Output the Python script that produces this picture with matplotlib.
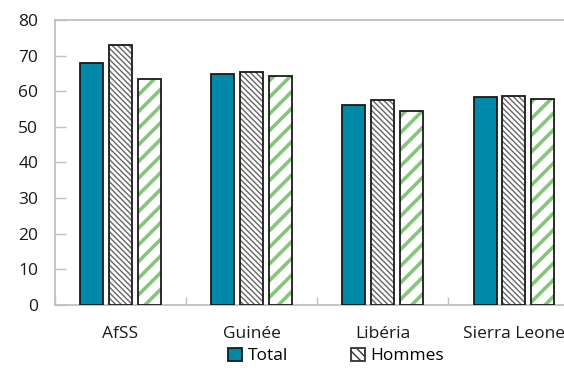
import numpy as np
import matplotlib
matplotlib.use('Agg')
import matplotlib.pyplot as plt
from matplotlib.patches import Patch

plt.rcParams['font.family'] = ['Open Sans', 'DejaVu Sans']

# Taux par pays et par sexe
categories = ['AfSS', 'Guinée', 'Libéria', 'Sierra Leone']
total = [68.0, 64.7, 56.2, 58.3]
hommes = [73.0, 65.3, 57.5, 58.7]
femmes = [63.3, 64.3, 54.5, 57.9]

teal = '#0088a8'
green = '#86c67a'

fig = plt.figure(figsize=(5.64, 3.68), dpi=100)
ax = fig.add_axes([0.0975, 0.171, 0.93, 0.775])

x = np.arange(len(categories))
w = 0.175
step = 0.22

ax.bar(x - step, total, w, color=teal, edgecolor='#1a1a1a', linewidth=1.3, zorder=3)

plt.rcParams['hatch.linewidth'] = 1.0
ax.bar(x, hommes, w, color='white', edgecolor='#666666', hatch='\\\\\\\\\\\\', linewidth=0, zorder=3)
ax.bar(x, hommes, w, fill=False, edgecolor='#1a1a1a', linewidth=1.3, zorder=4)

plt.rcParams['hatch.linewidth'] = 2.6
ax.bar(x + step, femmes, w, color='white', edgecolor=green, hatch='//', linewidth=0, zorder=3)
ax.bar(x + step, femmes, w, fill=False, edgecolor='#1a1a1a', linewidth=1.3, zorder=4)

ax.set_ylim(0, 80)
ax.set_xlim(-0.5, len(categories) - 0.5)
ax.set_yticks(np.arange(0, 81, 10))
ax.set_xticks(x)
ax.set_xticklabels(categories)
ax.set_xticks(np.arange(-0.5, len(categories), 1), minor=True)

for side in ['left', 'bottom', 'top']:
    ax.spines[side].set_color('#c0c0c0')
    ax.spines[side].set_linewidth(1.3)
ax.spines['right'].set_visible(False)

ax.tick_params(axis='y', direction='in', length=8, width=1, color='#c0c0c0',
               labelsize=12.5, pad=12, labelcolor='#1a1a1a')
ax.tick_params(axis='x', which='major', length=0, labelsize=12.5, pad=15, labelcolor='#1a1a1a')
ax.tick_params(axis='x', which='minor', direction='in', length=6, width=1, color='#c0c0c0')

plt.rcParams['hatch.linewidth'] = 1.0
handles = [Patch(facecolor=teal, edgecolor='#1a1a1a', linewidth=1.3, label='Total'),
           Patch(facecolor='white', edgecolor='#333333', hatch='\\\\\\\\', linewidth=1.3, label='Hommes')]
fig.legend(handles=handles, loc='center', bbox_to_anchor=(0.596, 0.033), ncol=2, frameon=False,
           fontsize=12.5, handlelength=0.8, handleheight=0.8, handletextpad=0.35,
           columnspacing=3.6)

fig.savefig('out.png', dpi=100)
